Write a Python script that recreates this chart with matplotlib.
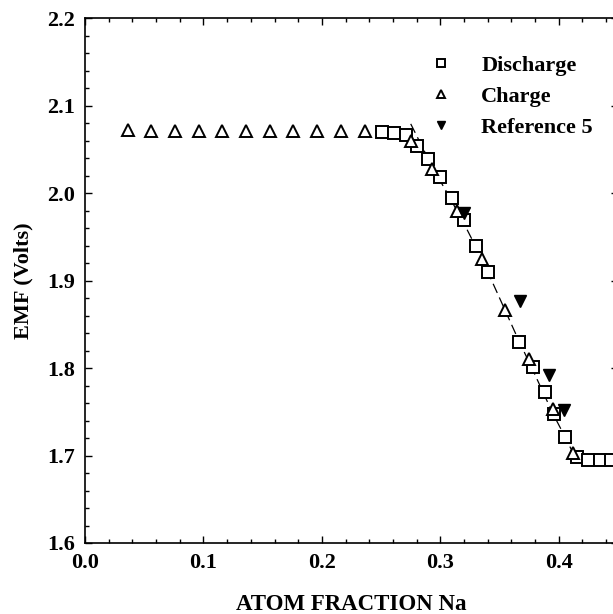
import matplotlib
matplotlib.use("Agg")
import matplotlib.pyplot as plt
from matplotlib.ticker import MultipleLocator

# charge (open triangles)
charge_x = [0.036, 0.056, 0.076, 0.096, 0.116, 0.136, 0.156, 0.176, 0.196, 0.216, 0.236,
            0.275, 0.293, 0.314, 0.335, 0.355, 0.375, 0.395, 0.412]
charge_y = [2.072, 2.071, 2.071, 2.071, 2.071, 2.071, 2.071, 2.071, 2.071, 2.071, 2.071,
            2.060, 2.027, 1.980, 1.925, 1.866, 1.810, 1.753, 1.703]

# discharge (open squares)
dis_x = [0.251, 0.261, 0.271, 0.280, 0.290, 0.300, 0.310, 0.320, 0.330, 0.340,
         0.366, 0.378, 0.388, 0.396, 0.405, 0.415, 0.425, 0.435, 0.444]
dis_y = [2.070, 2.069, 2.066, 2.054, 2.039, 2.018, 1.994, 1.969, 1.940, 1.910,
         1.830, 1.801, 1.773, 1.748, 1.721, 1.698, 1.695, 1.695, 1.695]

# reference 5 (filled down triangles)
ref_x = [0.320, 0.367, 0.392, 0.404]
ref_y = [1.977, 1.877, 1.792, 1.752]

# dashed fit curve
fit_x = [0.275, 0.285, 0.295, 0.305, 0.320, 0.335, 0.350, 0.365, 0.380, 0.395, 0.405, 0.412]
fit_y = [2.079, 2.052, 2.025, 2.002, 1.965, 1.925, 1.880, 1.835, 1.792, 1.748, 1.722, 1.703]

plt.rcParams["font.family"] = ["Liberation Serif", "DejaVu Serif"]
plt.rcParams["font.weight"] = "bold"

fig = plt.figure(figsize=(6.13, 6.14), dpi=100)
ax = fig.add_axes([85 / 613, 71 / 614, 533 / 613, 525 / 614])

ax.plot(fit_x, fit_y, color="black", lw=0.9, dashes=(8, 4))
ax.plot(dis_x, dis_y, ls="none", marker="s", ms=8.5, mfc="white", mec="black", mew=1.4,
        label="Discharge")
ax.plot(charge_x, charge_y, ls="none", marker="^", ms=8, mfc="white", mec="black", mew=1.4,
        label="Charge")
ax.plot(ref_x, ref_y, ls="none", marker="v", ms=8.5, color="black", label="Reference 5")

ax.set_xlim(0, 0.45)
ax.set_ylim(1.6, 2.2)
ax.xaxis.set_major_locator(MultipleLocator(0.1))
ax.xaxis.set_minor_locator(MultipleLocator(0.02))
ax.yaxis.set_major_locator(MultipleLocator(0.1))
ax.yaxis.set_minor_locator(MultipleLocator(0.02))
ax.xaxis.set_major_formatter(plt.FuncFormatter(lambda v, p: f"{v:.1f}"))
ax.yaxis.set_major_formatter(plt.FuncFormatter(lambda v, p: f"{v:.1f}"))
ax.tick_params(which="both", direction="in", top=True, right=True, width=1.0)
ax.tick_params(which="major", length=5, labelsize=16, pad=7)
ax.tick_params(which="minor", length=3)
for s in ax.spines.values():
    s.set_linewidth(1.2)

ax.set_xlabel("ATOM FRACTION Na", fontsize=16.5, fontweight="bold", labelpad=15)
ax.set_ylabel("EMF (Volts)", fontsize=16, fontweight="bold", labelpad=10)

ax.legend(loc="upper left", bbox_to_anchor=(419 / 613, 1 - 44 / 614),
          bbox_transform=fig.transFigure, frameon=False, fontsize=16,
          handlelength=1.0, handletextpad=1.3, labelspacing=0.48, borderpad=0,
          markerscale=0.75)

fig.savefig("out.png", dpi=100)
